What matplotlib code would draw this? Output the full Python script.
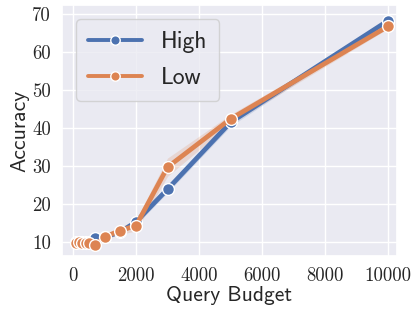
import matplotlib
matplotlib.use("Agg")
import matplotlib.pyplot as plt
import seaborn as sns
import numpy as np

budgets = [100, 200, 300, 400, 500, 700, 1000, 1500, 2000, 3000, 5000, 10000]
high_acc = [9.9, 10.0, 10.0, 10.1, 10.1, 11.0, 11.3, 12.6, 15.3, 23.9, 41.5, 68.3]
high_err = [0.4, 0.4, 0.4, 0.4, 0.4, 0.5, 0.5, 0.6, 0.8, 0.9, 1.0, 0.6]
low_acc = [9.7, 9.9, 9.8, 9.7, 9.6, 9.2, 11.3, 13.0, 14.3, 29.7, 42.4, 66.8]
low_err = [0.5, 0.5, 0.5, 0.5, 0.5, 0.6, 0.6, 1.0, 1.4, 2.4, 1.2, 0.6]
series_names = ["High", "Low"]
x_ticks = [0, 2000, 4000, 6000, 8000, 10000]
y_ticks = [10, 20, 30, 40, 50, 60, 70]

sns.set_theme(style="darkgrid")
plt.rcParams["axes.formatter.use_mathtext"] = True

fig = plt.figure(figsize=(4.16, 3.18), dpi=100)
ax = fig.add_axes([0.149, 0.195, 0.805, 0.789])

colors = ["#4C72B0", "#DD8452"]
for name, acc, err, c in zip(series_names, [high_acc, low_acc], [high_err, low_err], colors):
    a = np.array(acc)
    e = np.array(err)
    ax.fill_between(budgets, a - e, a + e, color=c, alpha=0.2, linewidth=0)
    ax.plot(budgets, acc, color=c, linewidth=3.4, marker="o", markersize=8.5,
            markeredgecolor="white", markeredgewidth=1.0, label=name)

ax.set_xlim(-350, 10280)
ax.set_ylim(6.3, 72.4)
ax.set_xticks(x_ticks)
ax.set_yticks(y_ticks)
ax.set_xticklabels([str(t) for t in x_ticks], fontfamily="cmr10", fontsize=13.5)
ax.set_yticklabels([str(t) for t in y_ticks], fontfamily="cmr10", fontsize=13.5)
ax.tick_params(axis="both", pad=2)
ax.set_xlabel("Query Budget", fontfamily="cmss10", fontsize=15.5, labelpad=1)
ax.set_ylabel("Accuracy", fontfamily="cmss10", fontsize=15.5, labelpad=2)

leg = ax.legend(loc="upper left", prop={"family": "cmss10", "size": 17},
                handlelength=2.3, borderpad=0.5, labelspacing=0.6,
                handletextpad=0.8, markerscale=0.8,
                bbox_to_anchor=(0.0, 1.0), borderaxespad=0.6)
for line in leg.get_lines():
    line.set_linewidth(2.8)

fig.savefig("out.png", dpi=100)
